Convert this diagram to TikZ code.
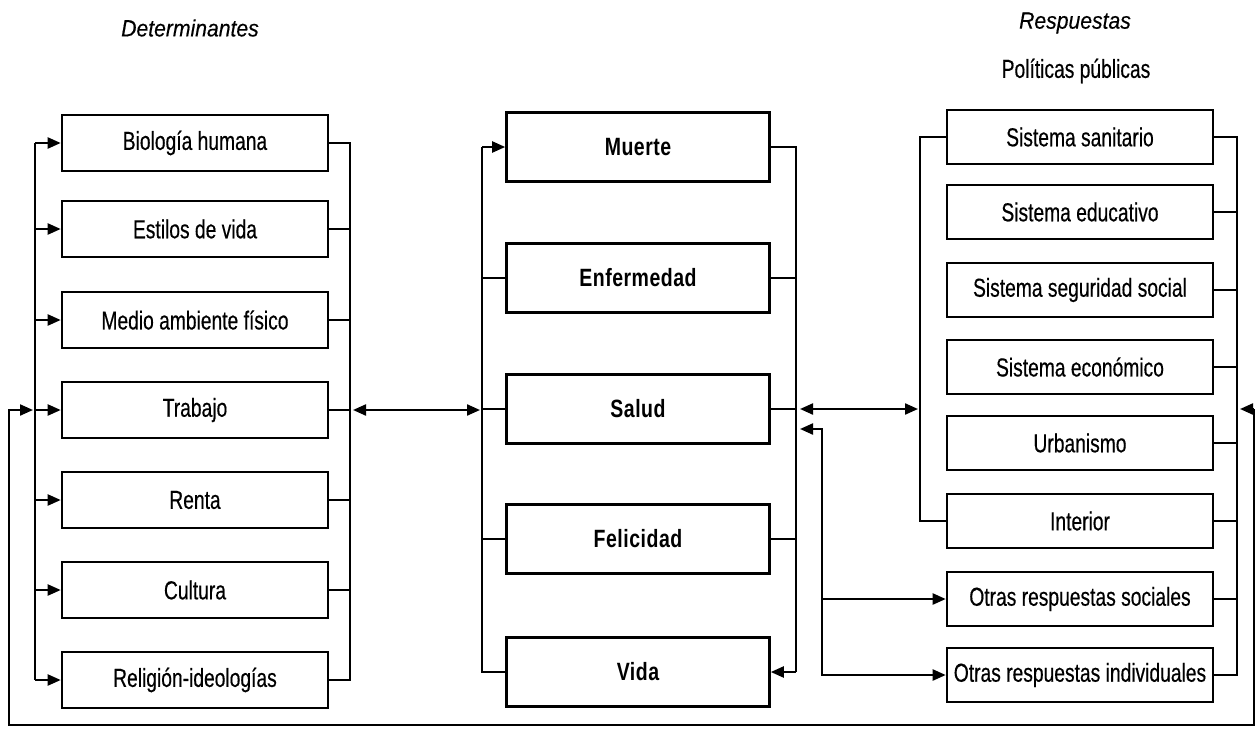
\documentclass[tikz,border=0pt]{standalone}
\usepackage{fontspec}
\setmainfont[FakeStretch=0.74]{Liberation Sans}
\newfontfamily\boxfont[FakeStretch=0.74,FakeBold=0.4]{Liberation Sans}
\newfontfamily\cfont[FakeStretch=0.78,LetterSpace=2]{Liberation Sans}
\newfontfamily\hdrfont[FakeStretch=0.9,FakeBold=0.3]{Liberation Sans}
\usetikzlibrary{arrows.meta}
\begin{document}
\begin{tikzpicture}[x=1pt,y=-1pt,
  box/.style={draw,line width=2.6pt,minimum height=56pt,minimum width=266pt,inner sep=0pt,font=\boxfont\fontsize{26}{30}\selectfont},
  cbox/.style={box,minimum height=69pt,minimum width=263pt,font=\cfont\bfseries\fontsize{25}{29}\selectfont},
  rbox/.style={box,minimum height=54pt},
  ln/.style={line width=2.2pt},
  arr/.style={ln,-{Triangle[length=13pt,width=11pt]}},
  darr/.style={ln,{Triangle[length=13pt,width=11pt]}-{Triangle[length=13pt,width=11pt]}},
  hdr/.style={font=\hdrfont\itshape\fontsize{23.5}{27}\selectfont},
  plain/.style={font=\boxfont\fontsize{26}{30}\selectfont}]
\useasboundingbox (0,0) rectangle (1257,731);
% headers
\node[hdr] (h1) at (190,28) {Determinantes};
\node[hdr] (h2) at (1075,23) {Respuestas};
\node[plain] (h3) at (1076,71) {Políticas públicas};
% determinantes
\node[box] (d1) at (195,143) {Biología humana};
\node[box] (d2) at (195,229) {Estilos de vida};
\node[box] (d3) at (195,320) {Medio ambiente físico};
\node[box] (d4) at (195,410) {Trabajo};
\node[box] (d5) at (195,500) {Renta};
\node[box] (d6) at (195,590) {Cultura};
\node[box] (d7) at (195,680) {Religión-ideologías};
% centro
\node[cbox] (c1) at (638,147) {Muerte};
\node[cbox] (c2) at (638,278) {Enfermedad};
\node[cbox] (c3) at (638,409) {Salud};
\node[cbox] (c4) at (638,539) {Felicidad};
\node[cbox] (c5) at (638,672) {Vida};
% respuestas
\node[rbox] (r1) at (1080,137) {Sistema sanitario};
\node[rbox] (r2) at (1080,212) {Sistema educativo};
\node[rbox] (r3) at (1080,290) {Sistema seguridad social};
\node[rbox] (r4) at (1080,367) {Sistema económico};
\node[rbox] (r5) at (1080,443) {Urbanismo};
\node[rbox] (r6) at (1080,521) {Interior};
\node[rbox] (r7) at (1080,599) {Otras respuestas sociales};
\node[rbox] (r8) at (1080,675) {Otras respuestas individuales};
% bus positions
\coordinate (LB) at (35,0);
\coordinate (RB) at (350,0);
\coordinate (CL) at (482,0);
\coordinate (CR) at (796,0);
\coordinate (OB) at (822,0);
\coordinate (PL) at (920,0);
\coordinate (PR) at (1237,0);
\coordinate (FL) at (9,0);
\coordinate (BOT) at (0,725);
\coordinate (fb) at (1254,409);
\coordinate (ot) at (822,429);
% left column buses
\draw[ln] (d1.west -| LB) -- (d7.west -| LB);
\foreach \i in {1,...,7} \draw[arr] (d\i.west -| LB) -- (d\i.west);
\draw[ln] (d1.east) -- (d1.east -| RB) -- (d7.east -| RB) -- (d7.east);
\foreach \i in {2,...,6} \draw[ln] (d\i.east) -- (d\i.east -| RB);
% center buses
\draw[ln] (c5.west) -- (c5.west -| CL) -- (c1.west -| CL);
\draw[arr] (c1.west -| CL) -- (c1.west);
\foreach \i in {2,3,4} \draw[ln] (c\i.west) -- (c\i.west -| CL);
\draw[ln] (c1.east) -- (c1.east -| CR) -- (c5.east -| CR);
\draw[arr] (c5.east -| CR) -- (c5.east);
\foreach \i in {2,3,4} \draw[ln] (c\i.east) -- (c\i.east -| CR);
% determinantes <-> salud
\draw[darr, shorten <=3pt, shorten >=2pt] (d4.east -| RB) -- (d4.east -| CL);
% respuestas left bracket
\draw[ln] (r1.west) -- (r1.west -| PL) -- (r6.west -| PL) -- (r6.west);
\draw[darr, shorten <=4pt, shorten >=2pt] (c3.east -| CR) -- (c3.east -| PL);
% otras respuestas
\draw[darr, shorten <=4pt] (ot -| CR) -- (ot) |- (r8.west);
\draw[arr] (r7.west -| OB) -- (r7.west);
% respuestas right bus
\draw[ln] (r1.east) -- (r1.east -| PR) -- (r8.east -| PR) -- (r8.east);
\foreach \i in {2,...,7} \draw[ln] (r\i.east) -- (r\i.east -| PR);
% feedback loop
\draw[arr, shorten >=3pt] (fb) -- (fb -| PR);
\draw[arr, shorten >=2pt] (fb) |- (BOT -| FL) |- (d4.west -| LB);
\end{tikzpicture}
\end{document}
